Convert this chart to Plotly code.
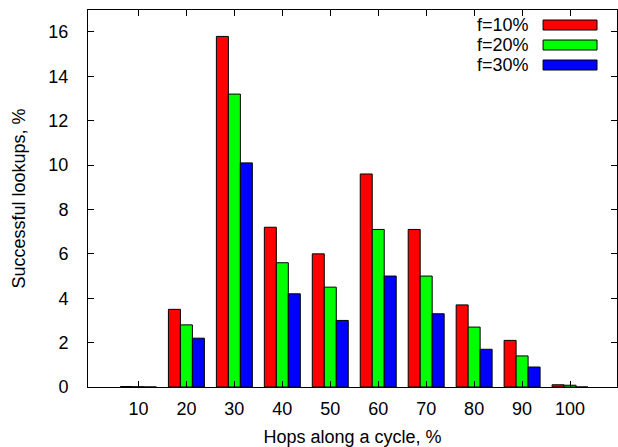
import plotly.graph_objects as go

categories = ["10", "20", "30", "40", "50", "60", "70", "80", "90", "100"]
f10 = [0.02, 3.5, 15.8, 7.2, 6.0, 9.6, 7.1, 3.7, 2.1, 0.1]
f20 = [0.01, 2.8, 13.2, 5.6, 4.5, 7.1, 5.0, 2.7, 1.4, 0.08]
f30 = [0.0, 2.2, 10.1, 4.2, 3.0, 5.0, 3.3, 1.7, 0.9, 0.0]
series_names = ["f=10%", "f=20%", "f=30%"]
colors = ["#ff0000", "#00ff00", "#0000ff"]
yticks = [0, 2, 4, 6, 8, 10, 12, 14, 16]

xs = list(range(len(categories)))
FONT = "Liberation Sans, Arial, sans-serif"

fig = go.Figure()
for name, vals, c in zip(series_names, [f10, f20, f30], colors):
    fig.add_trace(go.Bar(x=xs, y=vals, name=name, marker=dict(color=c, line=dict(color="black", width=1)),
                         showlegend=False))

# Legend drawn gnuplot-style: text then sample swatch
for i, (name, c) in enumerate(zip(series_names, colors)):
    yc = 1 - (15 + 20 * i) / 377.0
    fig.add_annotation(x=(531 - 87.5) / 529.5, y=yc, xref="paper", yref="paper", text=name,
                       showarrow=False, xanchor="right", yanchor="middle",
                       font=dict(family=FONT, size=18, color="black"))
    fig.add_shape(type="rect", xref="paper", yref="paper",
                  x0=(543 - 87.5) / 529.5, x1=(597 - 87.5) / 529.5,
                  y0=yc - 5 / 377.0, y1=yc + 5 / 377.0,
                  fillcolor=c, line=dict(color="black", width=1))

fig.update_layout(
    width=618, height=447,
    margin=dict(l=87.5, r=1, t=10, b=60),
    paper_bgcolor="white", plot_bgcolor="white",
    barmode="group", bargap=0.25, bargroupgap=0,
    font=dict(family=FONT, size=18, color="black"),
)
fig.update_xaxes(
    range=[-1.052, 9.979], tickvals=xs, ticktext=categories,
    ticks="inside", ticklen=6, tickcolor="black", showline=True, linecolor="black", linewidth=1,
    mirror="allticks", showgrid=False, zeroline=False, ticklabelstandoff=5,
    tickfont=dict(family=FONT, size=18),
    title=dict(text="Hops along a cycle, %", standoff=13, font=dict(family=FONT, size=18)),
)
fig.update_yaxes(
    range=[0, 16.99], tickvals=yticks,
    ticks="inside", ticklen=6, tickcolor="black", showline=True, linecolor="black", linewidth=1,
    mirror="allticks", showgrid=False, zeroline=False, ticklabelstandoff=15,
    tickfont=dict(family=FONT, size=18),
    title=dict(text="Successful lookups, %", standoff=18, font=dict(family=FONT, size=18)),
)

fig.write_html("out.html")
